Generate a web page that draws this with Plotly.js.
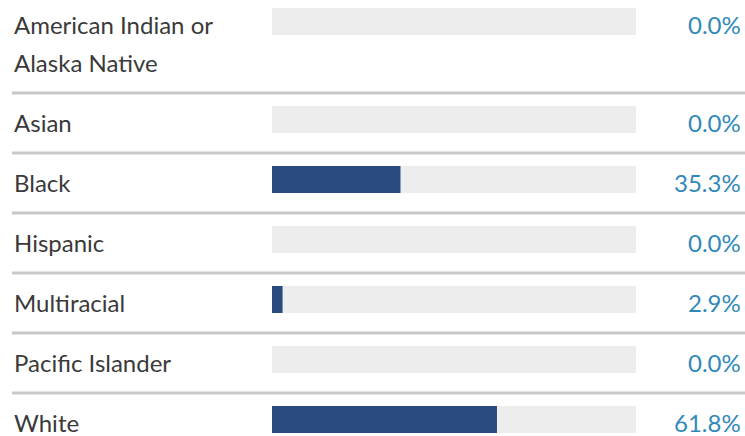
<!DOCTYPE html>
<html>
<head>
<meta charset="utf-8">
<script src="https://cdn.plot.ly/plotly-3.0.1.min.js"></script>
<style>
  html, body { margin: 0; padding: 0; background: #fff; }
  #chart { width: 745px; height: 436px; }
</style>
</head>
<body>
<div id="chart"></div>
<script>
// ---- Data ----
var categories = ["American Indian or Alaska Native", "Asian", "Black", "Hispanic", "Multiracial", "Pacific Islander", "White"];
var labelLines = [["American Indian or", "Alaska Native"], ["Asian"], ["Black"], ["Hispanic"], ["Multiracial"], ["Pacific Islander"], ["White"]];
var values = [0.0, 0.0, 35.3, 0.0, 2.9, 0.0, 61.8];
var fullScale = [100, 100, 100, 100, 100, 100, 100];

(function () {
  var W = 745, H = 436;
  var FONT = "Lato, 'Open Sans', sans-serif";
  var rowBase = 60, lineStep = 38, barOffset = 26.5;
  var centers = [], seps = [];
  var rowTop = -5;
  for (var i = 0; i < categories.length; i++) {
    var h = rowBase + lineStep * (labelLines[i].length - 1);
    centers.push(rowTop + barOffset);
    if (i < categories.length - 1) seps.push(rowTop + h);
    rowTop += h;
  }

  var traces = [
    {
      type: "bar", orientation: "h",
      x: fullScale, y: centers, width: 27,
      marker: { color: "#ededed" },
      hoverinfo: "skip", showlegend: false
    },
    {
      type: "bar", orientation: "h",
      x: values, y: centers, width: 27,
      marker: { color: "#284a7e" },
      hoverinfo: "skip", showlegend: false
    }
  ];

  var annotations = [];
  for (var i = 0; i < categories.length; i++) {
    for (var j = 0; j < labelLines[i].length; j++) {
      annotations.push({
        xref: "paper", yref: "y",
        x: 12 / W, y: centers[i] + 3 + j * lineStep,
        xanchor: "left", yanchor: "middle",
        text: labelLines[i][j], showarrow: false,
        font: { family: FONT, size: 24, color: "#3a3a3a" }
      });
    }
    annotations.push({
      xref: "paper", yref: "y",
      x: 743 / W, y: centers[i] + 3,
      xanchor: "right", yanchor: "middle",
      text: values[i].toFixed(1) + "%", showarrow: false,
      font: { family: FONT, size: 24, color: "#3189b8" }
    });
  }

  var shapes = seps.map(function (s) {
    return {
      type: "line", xref: "paper", yref: "y",
      x0: 12 / W, x1: 1, y0: s, y1: s,
      line: { color: "#c8c8c8", width: 3 }
    };
  });

  var layout = {
    width: W, height: H,
    margin: { l: 0, r: 0, t: 0, b: 0, pad: 0 },
    paper_bgcolor: "#ffffff", plot_bgcolor: "#ffffff",
    barmode: "overlay",
    xaxis: { domain: [272 / W, 636 / W], range: [0, 100], visible: false, fixedrange: true },
    yaxis: { type: "linear", range: [H, 0], visible: false, fixedrange: true },
    annotations: annotations,
    shapes: shapes,
    showlegend: false
  };

  Plotly.newPlot("chart", traces, layout, { staticPlot: true, displayModeBar: false });
})();
</script>
</body>
</html>
